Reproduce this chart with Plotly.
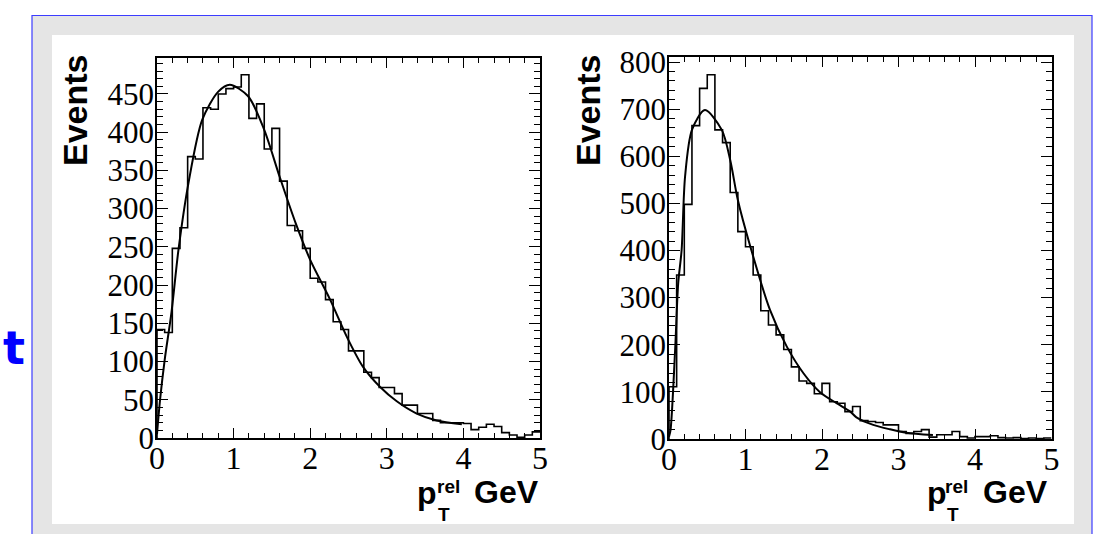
import numpy as np
import plotly.graph_objects as go

# ---------------- data ----------------
bin_edges = [round(0.1 * i, 1) for i in range(51)]

left_counts = [142, 138, 248, 275, 368, 365, 432, 430, 450, 457,
               459, 475, 418, 437, 378, 405, 336, 278, 271, 248,
               209, 204, 181, 152, 142, 114, 114, 86, 79, 66,
               66, 58, 43, 43, 32, 32, 23, 20, 20, 20,
               19, 11, 14, 18, 15, 7, 4, 1, 4, 8]

right_counts = [111, 348, 498, 665, 744, 773, 656, 629, 523, 440,
                408, 348, 272, 242, 221, 190, 153, 123, 118, 96,
                118, 79, 76, 58, 69, 39, 37, 35, 30, 30,
                16, 12, 16, 20, 4, 9, 9, 16, 5, 2,
                5, 5, 7, 3, 2, 3, 1, 2, 1, 2]

left_fit_x = [0.0, 0.04, 0.1, 0.19, 0.28, 0.41, 0.59, 0.8, 0.95, 1.19, 1.4,
              1.6, 1.81, 2.0, 2.26, 2.48, 2.69, 2.91, 3.13, 3.39, 3.65, 3.98]
left_fit_y = [5, 50, 102, 165, 246, 333, 416, 453, 462, 447, 403,
              342, 281, 233, 181, 132, 93, 67, 48, 32, 23, 18]

right_fit_x = [0.0, 0.02, 0.08, 0.12, 0.165, 0.21, 0.3, 0.47, 0.69, 0.8, 0.9,
               1.06, 1.32, 1.54, 1.76, 1.97, 2.19, 2.37, 2.45, 2.67, 2.89, 3.1, 3.45]
right_fit_y = [5, 19, 189, 330, 401, 557, 656, 698, 656, 592, 507,
               410, 274, 196, 139, 100, 76, 58, 46, 30, 20.5, 13.4, 8.5]

y_tick_left = [0, 50, 100, 150, 200, 250, 300, 350, 400, 450]
y_tick_right = [0, 100, 200, 300, 400, 500, 600, 700, 800]
x_ticks = [0, 1, 2, 3, 4, 5]

# ---------------- figure ----------------
W, H = 1104, 534


def px(x):
    return x / W


def py(y):
    return 1 - y / H


fig = go.Figure()


def step_xy(counts):
    xs = [bin_edges[0]] + bin_edges
    ys = [0] + list(counts) + [counts[-1]]
    return xs, ys


lx, ly = step_xy(left_counts)
rx, ry = step_xy(right_counts)

fig.add_trace(go.Scatter(x=lx, y=ly, mode="lines", line=dict(color="black", width=1.6, shape="hv"),
                         xaxis="x", yaxis="y", showlegend=False, hoverinfo="skip"))
fig.add_trace(go.Scatter(x=left_fit_x, y=left_fit_y, mode="lines",
                         line=dict(color="black", width=2, shape="spline", smoothing=0.8),
                         xaxis="x", yaxis="y", showlegend=False, hoverinfo="skip"))
fig.add_trace(go.Scatter(x=rx, y=ry, mode="lines", line=dict(color="black", width=1.6, shape="hv"),
                         xaxis="x2", yaxis="y2", showlegend=False, hoverinfo="skip"))
fig.add_trace(go.Scatter(x=right_fit_x, y=right_fit_y, mode="lines",
                         line=dict(color="black", width=2, shape="spline", smoothing=0.8),
                         xaxis="x2", yaxis="y2", showlegend=False, hoverinfo="skip"))

serif = "Liberation Serif"
sans = "Liberation Sans"

xaxis_common = dict(
    range=[0, 5], tickvals=x_ticks, ticks="inside", ticklen=10, tickwidth=1.2,
    tickcolor="black", showline=True, linecolor="black", linewidth=1.5, mirror="ticks",
    showgrid=False, zeroline=False, automargin=False,
    tickfont=dict(family=serif, size=32, color="black"),
    ticklabelstandoff=-9,
    minor=dict(dtick=0.2, ticks="inside", ticklen=5, tickwidth=1.2, tickcolor="black", showgrid=False),
    fixedrange=True,
)

yaxis_common = dict(
    ticks="inside", ticklen=11, tickwidth=1.2,
    tickcolor="black", showline=True, linecolor="black", linewidth=1.5, mirror="ticks",
    showgrid=False, zeroline=False, automargin=False,
    tickfont=dict(family=serif, size=31, color="black"),
    fixedrange=True, ticklabelstandoff=-5,
)

fig.update_layout(
    width=W, height=H,
    margin=dict(l=0, r=0, t=0, b=0, pad=0, autoexpand=False),
    paper_bgcolor="white", plot_bgcolor="white",
    showlegend=False,
    xaxis=dict(domain=[px(157), px(540)], anchor="y", **xaxis_common),
    yaxis=dict(domain=[py(438), py(58)], anchor="x", range=[0, 497], tickvals=y_tick_left,
               minor=dict(dtick=10, ticks="inside", ticklen=6, tickwidth=1.2, tickcolor="black", showgrid=False),
               **yaxis_common),
    xaxis2=dict(domain=[px(669), px(1051.5)], anchor="y2", **xaxis_common),
    yaxis2=dict(domain=[py(439), py(57.3)], anchor="x2", range=[0, 810], tickvals=y_tick_right,
                minor=dict(dtick=20, ticks="inside", ticklen=6, tickwidth=1.2, tickcolor="black", showgrid=False),
                **yaxis_common),
)

# background frame: grey band with blue border, then white pad
fig.add_shape(type="rect", xref="paper", yref="paper", x0=px(32), x1=px(1092), y0=py(540), y1=py(15.5),
              line=dict(color="rgb(60,60,255)", width=1.2), fillcolor="rgb(229,229,229)", layer="below")
fig.add_shape(type="rect", xref="paper", yref="paper", x0=px(52), x1=px(1074), y0=py(524), y1=py(35),
              line=dict(width=0), fillcolor="white", layer="below")

annotations = []
# y titles
for cx in (75, 588):
    annotations.append(dict(text="<b>Events</b>", x=px(cx), y=py(110), xref="paper", yref="paper",
                            textangle=-90, showarrow=False, xanchor="center", yanchor="middle",
                            font=dict(family=sans, size=34, color="black")))
# x titles
for (xp, xrel, xT, xg) in ((415, 435, 436, 472), (925, 943, 945, 981)):
    annotations.append(dict(text="<b>p</b>", x=px(xp), y=py(493), xref="paper", yref="paper",
                            showarrow=False, xanchor="left", yanchor="middle",
                            font=dict(family=sans, size=32, color="black")))
    annotations.append(dict(text="<b>rel</b>", x=px(xrel), y=py(486), xref="paper", yref="paper",
                            showarrow=False, xanchor="left", yanchor="middle",
                            font=dict(family=sans, size=19, color="black")))
    annotations.append(dict(text="<b>T</b>", x=px(xT), y=py(514), xref="paper", yref="paper",
                            showarrow=False, xanchor="left", yanchor="middle",
                            font=dict(family=sans, size=19, color="black")))
    annotations.append(dict(text="<b>GeV</b>", x=px(xg), y=py(492), xref="paper", yref="paper",
                            showarrow=False, xanchor="left", yanchor="middle",
                            font=dict(family=sans, size=32, color="black")))
# clipped blue text at left edge
annotations.append(dict(text="<b>t</b>", x=px(27), y=py(348), xref="paper", yref="paper",
                        showarrow=False, xanchor="right", yanchor="middle",
                        font=dict(family="DejaVu Sans", size=46, color="rgb(0,0,255)")))
fig.update_layout(annotations=annotations)

fig.write_html("out.html", config={"displayModeBar": False},
               post_script="document.body.style.margin='0';document.body.style.overflow='hidden';")
